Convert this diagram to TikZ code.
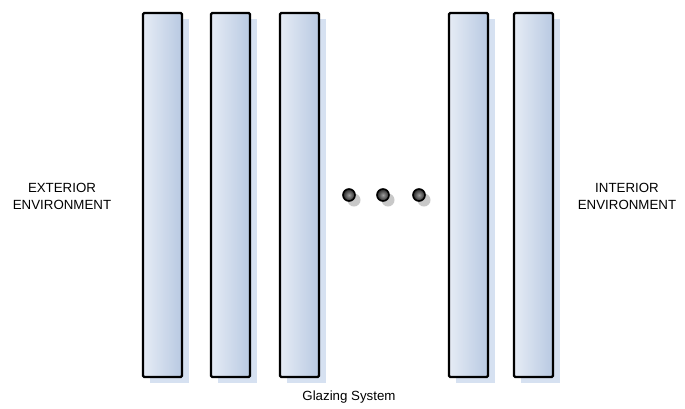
\documentclass[tikz,border=0pt]{standalone}
\usepackage{fontspec}
\setmainfont{Liberation Sans}
\definecolor{paneL}{HTML}{E6ECF5}
\definecolor{paneR}{HTML}{B8C9E2}
\definecolor{paneShadow}{HTML}{D6E1F1}
\definecolor{dotShadow}{HTML}{C8C8C8}
\begin{document}
\begin{tikzpicture}[x=1pt,y=-1pt,
  pane/.style={draw=black,line width=2.3pt,rounded corners=1.2pt,left color=paneL,right color=paneR},
  paneshadow/.style={fill=paneShadow},
  blob/.style={circle,minimum size=12pt,inner sep=0pt,draw=black,line width=1.6pt,inner color=gray!75,outer color=black!85},
  blobshadow/.style={circle,minimum size=13pt,inner sep=0pt,fill=dotShadow},
  lbl/.style={font=\fontsize{13.3}{17}\selectfont,align=center}]
\useasboundingbox (0,0) rectangle (685,408);
\foreach \n/\x in {p1/143,p2/211,p3/280,p4/449,p5/514}{
  \fill[paneshadow] (\x+7,19) rectangle (\x+46,383);
  \draw[pane] (\x,13) rectangle (\x+39,377);
  \coordinate (\n) at (\x+19.5,195);
}
\foreach \n/\x in {d1/349,d2/383,d3/419}{
  \node[blobshadow] at (\x+5,200) {};
  \node[blob] (\n) at (\x,195) {};
}
\node[lbl] (ext) at (62,196) {EXTERIOR\\ENVIRONMENT};
\node[lbl] (int) at (627,196) {INTERIOR\\ENVIRONMENT};
\node[lbl] (gs) at (349,397) {Glazing System};
\end{tikzpicture}
\end{document}
